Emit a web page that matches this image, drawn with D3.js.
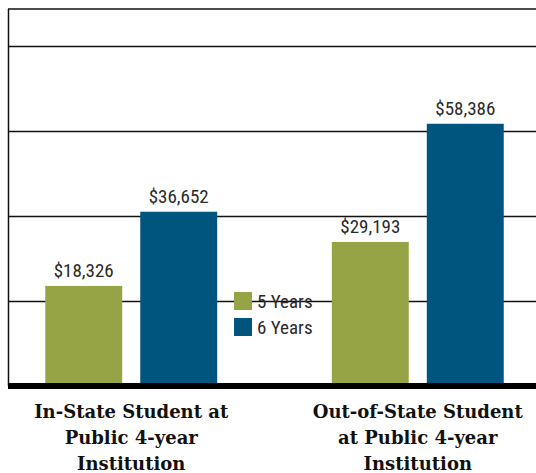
<!DOCTYPE html>
<html>
<head>
<meta charset="utf-8">
<script src="https://d3js.org/d3.v7.min.js"></script>
<style>
  body { margin: 0; background: #fff; }
  .val { font-family: "Liberation Sans Narrow", "Roboto Condensed", Roboto, sans-serif; font-size: 19px; fill: #2a2a2a; }
  .cat { font-family: "DejaVu Serif", serif; font-weight: bold; font-size: 18px; fill: #111; }
</style>
</head>
<body>
<div id="chart"></div>
<script>
var categories = ["In-State Student at|Public 4-year|Institution", "Out-of-State Student|at Public 4-year|Institution"];
var series = ["5 Years", "6 Years"];
var fiveYears = [18326, 29193];
var sixYears = [36652, 58386];
var gridValues = [14600, 35600, 56600, 77600];
var colors = ["#96a446", "#00557f"];

var svgWidth = 536;
var svgHeight = 473;

var svg = d3.select("#chart")
  .append("svg")
  .attr("width", svgWidth)
  .attr("height", svgHeight);

// plot area
var plotLeft = 8, plotRight = 536, plotTop = 9, plotBottom = 386;

var x0 = d3.scaleBand()
  .domain(categories)
  .range([plotLeft, plotRight + 5])
  .paddingInner(0.4)
  .paddingOuter(0.13);

var x1 = d3.scaleBand()
  .domain(series)
  .range([0, x0.bandwidth()])
  .paddingInner(0.19);

var y = d3.scaleLinear()
  .domain([-6400, 86740])
  .range([plotBottom, plotTop]);

var data = categories.map(function(c, i) {
  return { cat: c, values: [fiveYears[i], sixYears[i]] };
});

// gridlines
svg.append("g").selectAll("line")
  .data(gridValues)
  .enter()
  .append("line")
  .attr("x1", plotLeft)
  .attr("x2", plotRight)
  .attr("y1", d => Math.round(y(d)) + 0.5)
  .attr("y2", d => Math.round(y(d)) + 0.5)
  .attr("stroke", "#111")
  .attr("stroke-width", 1.5);

// top frame line
svg.append("line")
  .attr("x1", plotLeft).attr("x2", plotRight)
  .attr("y1", y.range()[1]).attr("y2", y.range()[1])
  .attr("stroke", "#111").attr("stroke-width", 1.5);

// left axis line
svg.append("line")
  .attr("x1", plotLeft + 0.5).attr("x2", plotLeft + 0.5)
  .attr("y1", plotTop).attr("y2", plotBottom)
  .attr("stroke", "#111").attr("stroke-width", 1.5);

// bars
var groups = svg.append("g").selectAll("g")
  .data(data)
  .enter()
  .append("g")
  .attr("transform", d => `translate(${x0(d.cat)},0)`);

var bars = groups.selectAll("g")
  .data(d => d.values.map((v, i) => ({ key: series[i], value: v, i: i })))
  .enter()
  .append("g");

bars.append("rect")
  .attr("x", d => x1(d.key))
  .attr("width", x1.bandwidth())
  .attr("y", d => y(d.value))
  .attr("height", d => plotBottom - y(d.value))
  .attr("fill", d => colors[d.i]);

bars.append("text")
  .attr("class", "val")
  .attr("text-anchor", "middle")
  .attr("x", d => x1(d.key) + x1.bandwidth() / 2)
  .attr("y", d => y(d.value) - 9)
  .text(d => "$" + d3.format(",")(d.value));

// thick baseline
svg.append("line")
  .attr("x1", plotLeft).attr("x2", plotRight)
  .attr("y1", plotBottom).attr("y2", plotBottom)
  .attr("stroke", "#000").attr("stroke-width", 6);

// category labels
svg.append("g").selectAll("text")
  .data(categories)
  .enter()
  .append("text")
  .attr("class", "cat")
  .attr("text-anchor", "middle")
  .attr("x", d => x0(d) + x0.bandwidth() / 2)
  .attr("y", 418)
  .each(function(d) {
    var t = d3.select(this);
    d.split("|").forEach(function(line, i) {
      t.append("tspan")
        .attr("x", t.attr("x"))
        .attr("dy", i === 0 ? 0 : 26)
        .text(line);
    });
  });

// legend
var legend = svg.append("g")
  .attr("transform", "translate(234,292)");

var item = legend.selectAll("g")
  .data(series)
  .enter()
  .append("g")
  .attr("transform", (d, i) => `translate(0,${i * 26})`);

item.append("rect")
  .attr("width", 18)
  .attr("height", 18)
  .attr("fill", (d, i) => colors[i]);

item.append("text")
  .attr("class", "val")
  .attr("x", 23)
  .attr("y", 16)
  .text(d => d);
</script>
</body>
</html>
